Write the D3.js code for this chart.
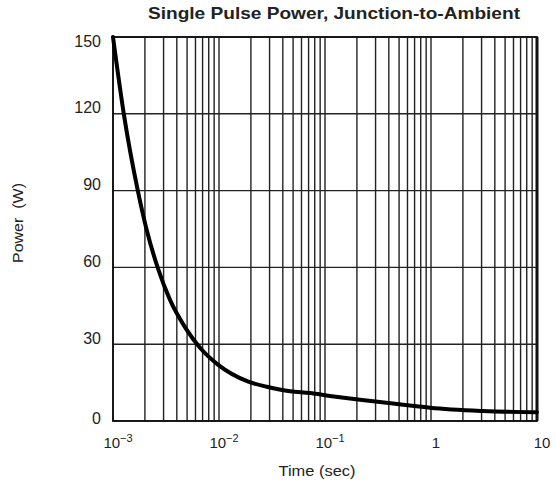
<!DOCTYPE html>
<html><head><meta charset="utf-8">
<script src="https://cdn.jsdelivr.net/npm/d3@7/dist/d3.min.js"></script>
<style>body{margin:0;background:#fff}svg{display:block}text{font-family:"Liberation Sans",Arial,sans-serif;fill:#222}</style>
</head><body><svg id="c" width="555" height="497"></svg>
<script>
const title = "Single Pulse Power, Junction-to-Ambient";
const xLabel = "Time (sec)";
const yLabel = "Power\u00a0\u00a0(W)";
const timeSec = [0.001, 0.00127, 0.00171, 0.00208, 0.00267, 0.00345, 0.00489, 0.00662, 0.00984, 0.0189, 0.0282, 0.0468, 0.0721, 0.111, 0.214, 0.4, 0.733, 0.98, 3.1, 10];
const powerW  = [150, 119.5, 90.2, 74.6, 59.3, 47.3, 36.0, 28.6, 21.9, 15.35, 13.4, 11.6, 10.9, 9.8, 8.3, 7.0, 5.8, 5.2, 3.9, 3.4];
const yTicks = [0, 30, 60, 90, 120, 150];
const xDecades = [0.001, 0.01, 0.1, 1, 10];
const xTickLabels = [["10","\u22123"],["10","\u22122"],["10","\u22121"],["1",""],["10",""]];

const svg = d3.select("#c");
const L = 113, R = 537, T = 37, B = 421;
const x = d3.scaleLog().domain([0.001, 10]).range([L, R]);
const y = d3.scaleLinear().domain([0, 150]).range([B, T]);

const vlines = [];
for (let d = -3; d < 1; d++) for (let m = 1; m <= 9; m++) vlines.push(m * Math.pow(10, d));
vlines.push(10);
const g = svg.append("g");
g.selectAll("line.v").data(vlines).join("line")
  .attr("x1", d => x(d)).attr("x2", d => x(d)).attr("y1", T).attr("y2", B)
  .attr("stroke", "#222").attr("stroke-width", 1.4);
g.selectAll("line.h").data(yTicks).join("line")
  .attr("x1", L).attr("x2", R).attr("y1", d => y(d)).attr("y2", d => y(d))
  .attr("stroke", "#222").attr("stroke-width", 1.4);
svg.append("rect").attr("x", L).attr("y", T).attr("width", R - L).attr("height", B - T)
  .attr("fill", "none").attr("stroke", "#111").attr("stroke-width", 1.8);
svg.append("line").attr("x1", R).attr("x2", R).attr("y1", T).attr("y2", B).attr("stroke", "#111").attr("stroke-width", 3);

svg.append("path").datum(powerW)
  .attr("d", d3.line().x((d, i) => x(timeSec[i])).y(d => y(d)).curve(d3.curveMonotoneX))
  .attr("fill", "none").attr("stroke", "#000").attr("stroke-width", 4).attr("stroke-linejoin", "round").attr("stroke-linecap", "round");

svg.selectAll("text.yt").data(yTicks).join("text")
  .attr("x", 101).attr("y", d => y(d) + (d === 150 ? 4 : d === 0 ? -3 : -6))
  .attr("dy", "0.35em").attr("text-anchor", "end").attr("font-size", 16).text(d => d);

const xt = svg.selectAll("text.xt").data(xDecades).join("text")
  .attr("x", d => x(d) + 5).attr("y", 448).attr("text-anchor", "middle").attr("font-size", 15);
xt.each(function(d, i) {
  const t = d3.select(this);
  t.append("tspan").text(xTickLabels[i][0]);
  if (xTickLabels[i][1]) t.append("tspan").attr("dy", -6).attr("font-size", 11).text(xTickLabels[i][1]);
});

svg.append("text").attr("x", 334).attr("y", 19).attr("text-anchor", "middle")
  .attr("font-size", 17).attr("font-weight", "bold").attr("fill", "#111")
  .attr("textLength", 372).attr("lengthAdjust", "spacingAndGlyphs").text(title);
svg.append("text").attr("x", 317).attr("y", 476).attr("text-anchor", "middle").attr("font-size", 15)
  .attr("textLength", 77).attr("lengthAdjust", "spacingAndGlyphs").text(xLabel);
svg.append("text").attr("transform", "translate(23,223) rotate(-90)").attr("text-anchor", "middle").attr("font-size", 15)
  .attr("textLength", 80).attr("lengthAdjust", "spacingAndGlyphs").text(yLabel);
</script></body></html>
